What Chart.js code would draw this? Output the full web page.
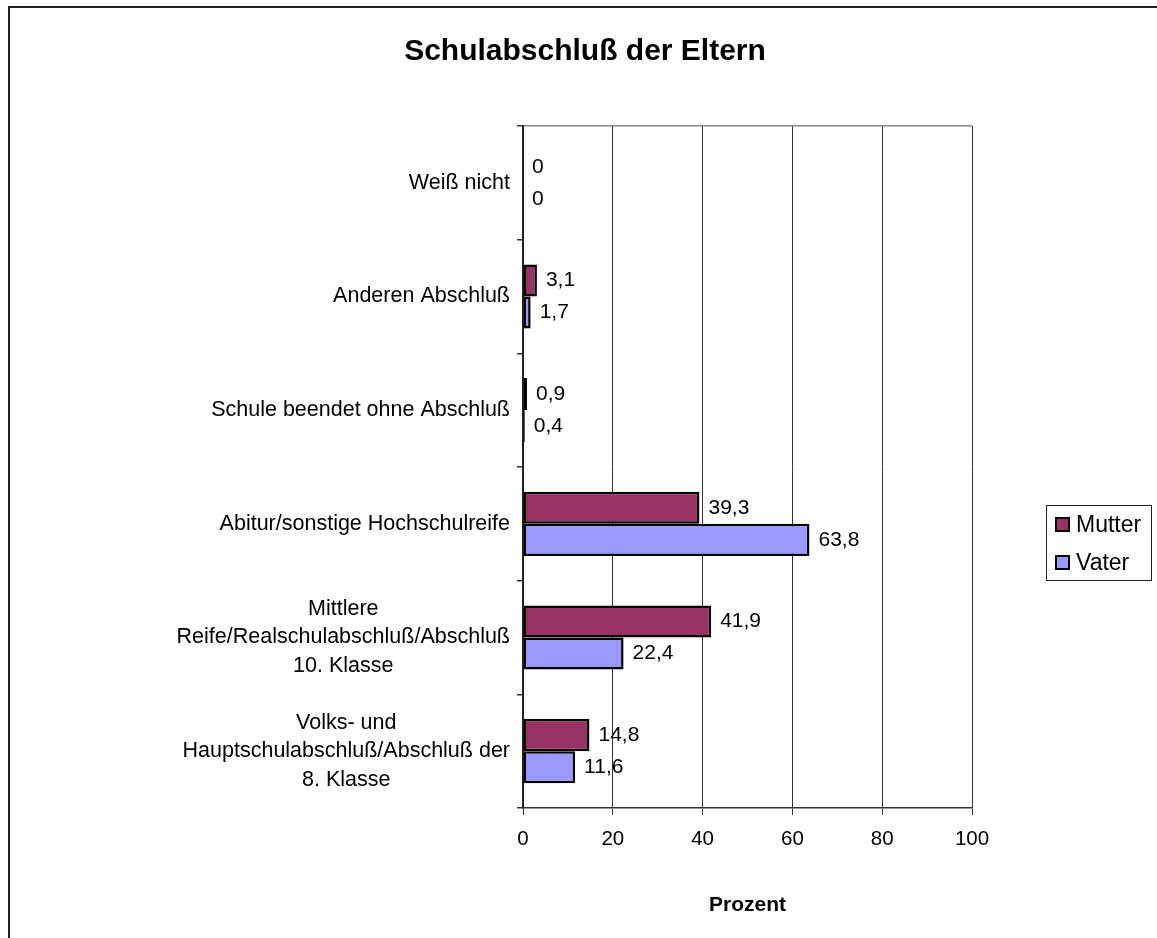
<!DOCTYPE html>
<html>
<head>
<meta charset="utf-8">
<title>Schulabschluß der Eltern</title>
<script src="https://cdn.jsdelivr.net/npm/chart.js@4/dist/chart.umd.min.js"></script>
<style>
  html, body { margin: 0; padding: 0; background: #fff; }
  #wrap { width: 1157px; height: 938px; }
</style>
</head>
<body>
<div id="wrap"><canvas id="chart" width="1157" height="938"></canvas></div>
<script>
// Categories, top to bottom
const categories = [
  'Weiß nicht',
  'Anderen Abschluß',
  'Schule beendet ohne Abschluß',
  'Abitur/sonstige Hochschulreife',
  ['Mittlere', 'Reife/Realschulabschluß/Abschluß', '10. Klasse'],
  ['Volks- und', 'Hauptschulabschluß/Abschluß der', '8. Klasse']
];
// Percentages per parent
const mutterValues = [0, 3.1, 0.9, 39.3, 41.9, 14.8];
const vaterValues  = [0, 1.7, 0.4, 63.8, 22.4, 11.6];
const seriesNames  = ['Mutter', 'Vater'];
const seriesColors = ['#993366', '#9999FF'];
const xTickValues  = [0, 20, 40, 60, 80, 100];
const chartTitle   = 'Schulabschluß der Eltern';
const xAxisTitle   = 'Prozent';

const FONT = '"Liberation Sans", Arial, Helvetica, sans-serif';
Chart.defaults.font.family = FONT;
Chart.defaults.color = '#000';

const fmt = v => String(v).replace('.', ',');

// Frame, title, category labels, legend and value labels
const decor = {
  id: 'decor',
  beforeDraw(chart) {
    const ctx = chart.ctx;
    ctx.save();
    ctx.fillStyle = '#fff';
    ctx.fillRect(0, 0, chart.width, chart.height);
    ctx.restore();
  },
  afterDatasetsDraw(chart) {
    const ctx = chart.ctx;
    ctx.save();
    ctx.font = '21px ' + FONT;
    ctx.fillStyle = '#000';
    ctx.textAlign = 'left';
    ctx.textBaseline = 'middle';
    chart.data.datasets.forEach((ds, di) => {
      const meta = chart.getDatasetMeta(di);
      meta.data.forEach((bar, i) => {
        ctx.fillText(fmt(ds.data[i]), bar.x + 9, bar.y);
      });
    });
    ctx.restore();
  },
  afterDraw(chart) {
    const ctx = chart.ctx;
    const area = chart.chartArea;
    const yScale = chart.scales.y;
    ctx.save();

    // outer frame
    ctx.strokeStyle = '#222';
    ctx.lineWidth = 2;
    ctx.beginPath();
    ctx.moveTo(9, chart.height + 2);
    ctx.lineTo(9, 7);
    ctx.lineTo(chart.width + 2, 7);
    ctx.stroke();

    // title
    ctx.fillStyle = '#000';
    ctx.font = 'bold 30px ' + FONT;
    ctx.textAlign = 'center';
    ctx.textBaseline = 'middle';
    ctx.fillText(chartTitle, 585, 52);

    // category labels: right-aligned blocks, lines centred inside each block
    ctx.font = '21.5px ' + FONT;
    const lineH = 28.5;
    const rightEdge = area.left - 13;
    chart.data.labels.forEach((lab, i) => {
      const lines = Array.isArray(lab) ? lab : [lab];
      const w = Math.max(...lines.map(l => ctx.measureText(l).width));
      const cx = rightEdge - w / 2;
      const cy = yScale.getPixelForTick(i);
      lines.forEach((l, k) => {
        ctx.fillText(l, cx, cy + (k - (lines.length - 1) / 2) * lineH);
      });
    });

    // legend
    ctx.strokeStyle = '#222';
    ctx.lineWidth = 1;
    ctx.strokeRect(1046.5, 505.5, 105, 75);
    ctx.textAlign = 'left';
    ctx.font = '23px ' + FONT;
    chart.data.datasets.forEach((ds, di) => {
      const cy = 524.5 + di * 38;
      ctx.fillStyle = ds.backgroundColor;
      ctx.fillRect(1055, cy - 7.5, 15, 15);
      ctx.strokeStyle = '#000';
      ctx.lineWidth = 2;
      ctx.strokeRect(1056, cy - 6.5, 13, 13);
      ctx.fillStyle = '#000';
      ctx.fillText(ds.label, 1076, cy + 1);
    });

    ctx.restore();
  }
};

new Chart(document.getElementById('chart'), {
  type: 'bar',
  data: {
    labels: categories,
    datasets: [
      { label: seriesNames[0], data: mutterValues, backgroundColor: seriesColors[0],
        borderColor: '#000', borderWidth: 2.5, borderSkipped: false },
      { label: seriesNames[1], data: vaterValues, backgroundColor: seriesColors[1],
        borderColor: '#000', borderWidth: 2.5, borderSkipped: false }
    ]
  },
  options: {
    indexAxis: 'y',
    responsive: false,
    animation: false,
    devicePixelRatio: 1,
    categoryPercentage: 0.565,
    barPercentage: 1.0,
    layout: { padding: { top: 126, left: 0, right: 185, bottom: 0 } },
    plugins: {
      legend: { display: false },
      title: { display: false },
      tooltip: { enabled: false }
    },
    scales: {
      x: {
        type: 'linear',
        min: 0,
        max: 100,
        afterFit: s => { s.height = 130; },
        afterBuildTicks: s => { s.ticks = xTickValues.map(v => ({ value: v })); },
        ticks: { font: { size: 20.5 }, color: '#000', padding: 12, maxRotation: 0 },
        grid: { color: '#333', lineWidth: 1, tickLength: 7, tickColor: '#333' },
        border: { color: '#333', width: 1.5 },
        title: {
          display: true, text: xAxisTitle, color: '#000',
          font: { size: 21, weight: 'bold' },
          padding: { top: 0, bottom: 20 }
        }
      },
      y: {
        type: 'category',
        afterFit: s => { s.width = 523; },
        ticks: { display: false },
        grid: {
          offset: true,
          drawOnChartArea: true,
          color: c => (c.index === 0 ? '#888' : 'rgba(0,0,0,0)'),
          tickColor: '#333',
          tickLength: 6,
          lineWidth: 1.5
        },
        border: { color: '#222', width: 2 }
      }
    }
  },
  plugins: [decor]
});
</script>
</body>
</html>
